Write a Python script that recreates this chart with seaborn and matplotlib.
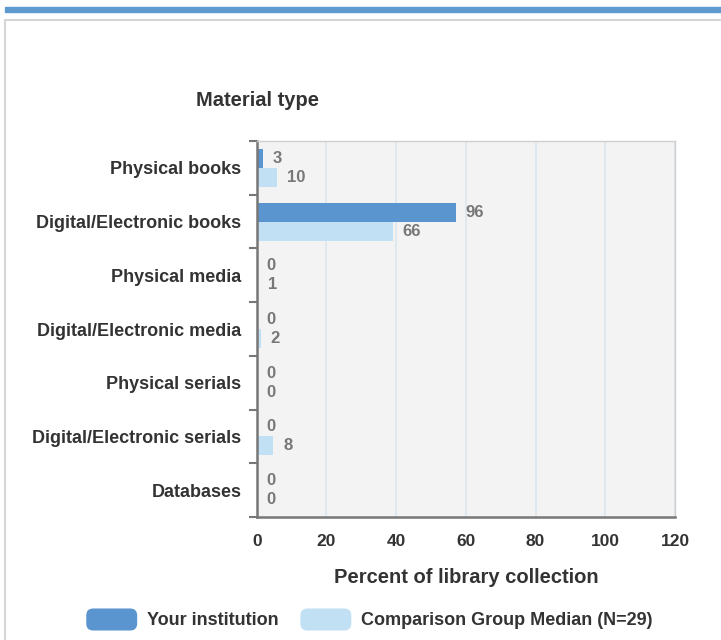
import pandas as pd
import matplotlib.pyplot as plt
import seaborn as sns
from matplotlib.patches import FancyBboxPatch, Patch, Rectangle
from matplotlib.legend_handler import HandlerPatch
from matplotlib.lines import Line2D

# Data
categories = ["Physical books", "Digital/Electronic books", "Physical media",
              "Digital/Electronic media", "Physical serials",
              "Digital/Electronic serials", "Databases"]
your_values = [3, 96, 0, 0, 0, 0, 0]
comp_values = [10, 66, 1, 2, 0, 8, 0]
# bar lengths as drawn in the picture (on the 0-120 axis)
your_bars = [1.7, 57.1, 0, 0, 0, 0, 0]
comp_bars = [5.9, 39.0, 0.4, 1.2, 0, 4.8, 0]
groups = ["Your institution", "Comparison Group Median (N=29)"]
x_ticks = [0, 20, 40, 60, 80, 100, 120]

dark = "#5b95cf"
light = "#c2e0f4"
text_col = "#333333"

df = pd.DataFrame({
    "Material": categories * 2,
    "Group": [groups[0]] * len(categories) + [groups[1]] * len(categories),
    "Length": your_bars + comp_bars,
})

sns.set_style("white")
plt.rcParams['font.family'] = ['Liberation Sans', 'DejaVu Sans']

fig = plt.figure(figsize=(7.21, 6.4), dpi=100)
ax = fig.add_axes([256.7 / 721, 1 - 517 / 640, (675 - 256.7) / 721, (517 - 141) / 640])

sns.barplot(data=df, y="Material", x="Length", hue="Group", orient="h",
            palette=[dark, light], width=0.71, saturation=1, linewidth=0,
            legend=False, ax=ax)

# value labels (the numbers shown, not the bar lengths)
for cont, labs in zip(ax.containers, [your_values, comp_values]):
    ax.bar_label(cont, labels=[str(v) for v in labs], padding=7,
                 color="#777777", fontsize=12, fontweight="bold")

ax.set_facecolor("#f3f3f3")
ax.set_xlim(0, 120)
ax.set_ylim(len(categories) - 0.5, -0.5)
ax.set_xticks(x_ticks)
ax.set_xticklabels([str(t) for t in x_ticks], fontsize=12.5, fontweight="bold", color=text_col)
ax.tick_params(axis="x", length=0, pad=12)
ax.set_yticks(range(len(categories)))
ax.set_yticklabels(categories, fontsize=13, fontweight="bold", color=text_col)
ax.tick_params(axis="y", which="major", length=0, pad=11)
ax.set_yticks([i - 0.5 for i in range(len(categories) + 1)], minor=True)
ax.tick_params(axis="y", which="minor", left=True, length=6, width=1.5,
               color="#777777", direction="out")

ax.grid(axis="x", color="#dbe5ef", linewidth=1.2)
ax.set_axisbelow(True)
for side in ["top", "right"]:
    ax.spines[side].set_color("#cfcfcf")
    ax.spines[side].set_linewidth(1)
for side in ["left", "bottom"]:
    ax.spines[side].set_color("#777777")
    ax.spines[side].set_linewidth(1.8)

ax.set_ylabel("")
ax.set_xlabel("Percent of library collection", fontsize=14.5, fontweight="bold",
              color=text_col, labelpad=14)

fig.text(257 / 721, 1 - 100 / 640, "Material type", ha="center", va="center",
         fontsize=14.5, fontweight="bold", color=text_col)

# page decoration: blue band and panel border
fig.patches.append(Rectangle((5 / 721, 1 - 11.7 / 640), 1, 4.4 / 640,
                             transform=fig.transFigure, color="#5f99cf", zorder=0))
fig.add_artist(Line2D([5 / 721, 5 / 721], [0, 1 - 20 / 640], transform=fig.transFigure,
                      color="#d6d6d6", linewidth=1.5))
fig.add_artist(Line2D([5 / 721, 1], [1 - 20 / 640, 1 - 20 / 640], transform=fig.transFigure,
                      color="#d6d6d6", linewidth=1.5))


class RoundHandler(HandlerPatch):
    def create_artists(self, legend, orig_handle, xdescent, ydescent, width, height, fontsize, trans):
        p = FancyBboxPatch((-xdescent, -ydescent), width, height,
                           boxstyle="round,pad=0,rounding_size=5",
                           facecolor=orig_handle.get_facecolor(), edgecolor="none",
                           transform=trans)
        return [p]


handles = [Patch(facecolor=dark), Patch(facecolor=light)]
fig.legend(handles, groups, loc="center", bbox_to_anchor=(369.5 / 721, 1 - 619.5 / 640),
           ncol=2, frameon=False, prop={"size": 13, "weight": "bold"},
           handlelength=2.82, handleheight=1.5, handletextpad=0.55, columnspacing=1.2,
           handler_map={Patch: RoundHandler()}, labelcolor=text_col)

fig.savefig("out.png", dpi=100)
